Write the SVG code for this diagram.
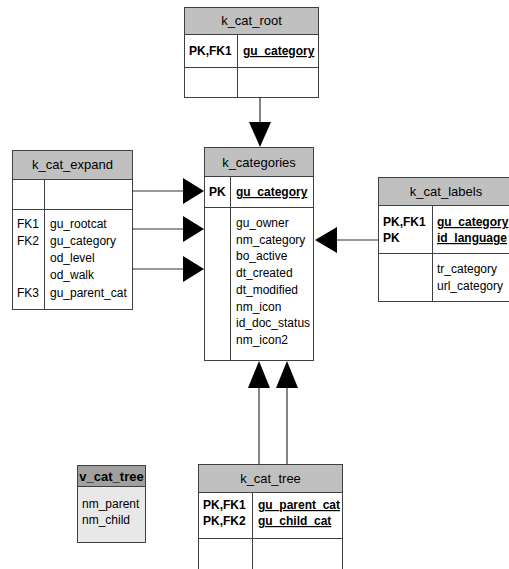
<svg xmlns="http://www.w3.org/2000/svg" width="509" height="569" viewBox="0 0 509 569">
<style>
text{font-family:"Liberation Sans",Arial,sans-serif;font-size:12px;fill:#000}
.t{font-size:13px;text-anchor:middle}
.b{font-weight:bold}
.u{text-decoration:underline}
.box{fill:#fff;stroke:#404040;stroke-width:1}
.hdr{fill:#c0c0c0;stroke:#404040;stroke-width:1}
.ln{stroke:#404040;stroke-width:1;fill:none}
.c{stroke:#333;stroke-width:1.2;fill:none}
.ah{fill:#000}
</style>
<rect width="509" height="569" fill="#fff"/>
<g id="k_cat_root">
<rect class="box" x="184.5" y="7.5" width="134" height="90"/>
<rect class="hdr" x="184.5" y="7.5" width="134" height="27"/>
<line class="ln" x1="184.5" y1="67.5" x2="318.5" y2="67.5"/>
<line class="ln" x1="237.5" y1="34.5" x2="237.5" y2="97.5"/>
<text class="t" x="251.5" y="25">k_cat_root</text>
<text class="b" x="189" y="55">PK,FK1</text>
<text class="b u" x="243" y="55">gu_category</text>
</g>
<g id="k_categories">
<rect class="box" x="204.5" y="147.5" width="109" height="213"/>
<rect class="hdr" x="204.5" y="147.5" width="109" height="29"/>
<line class="ln" x1="204.5" y1="207.5" x2="313.5" y2="207.5"/>
<line class="ln" x1="230.5" y1="176.5" x2="230.5" y2="360.5"/>
<text class="t" x="259" y="167">k_categories</text>
<text class="b" x="209" y="196">PK</text>
<text class="b u" x="236" y="196">gu_category</text>
<text x="236" y="227">gu_owner</text>
<text x="236" y="243.7">nm_category</text>
<text x="236" y="260.4">bo_active</text>
<text x="236" y="277.1">dt_created</text>
<text x="236" y="293.8">dt_modified</text>
<text x="236" y="310.5">nm_icon</text>
<text x="236" y="327.2">id_doc_status</text>
<text x="236" y="343.9">nm_icon2</text>
</g>
<g id="k_cat_expand">
<rect class="box" x="12.5" y="150.5" width="120" height="159"/>
<rect class="hdr" x="12.5" y="150.5" width="120" height="29"/>
<line class="ln" x1="12.5" y1="209.5" x2="132.5" y2="209.5"/>
<line class="ln" x1="44.5" y1="179.5" x2="44.5" y2="309.5"/>
<text class="t" x="72.5" y="169">k_cat_expand</text>
<text x="17" y="228">FK1</text>
<text x="17" y="245">FK2</text>
<text x="17" y="297">FK3</text>
<text x="50" y="228">gu_rootcat</text>
<text x="50" y="245">gu_category</text>
<text x="50" y="262">od_level</text>
<text x="50" y="279">od_walk</text>
<text x="50" y="297">gu_parent_cat</text>
</g>
<g id="k_cat_labels">
<rect class="box" x="378.5" y="177.5" width="140" height="124"/>
<rect class="hdr" x="378.5" y="177.5" width="140" height="28"/>
<line class="ln" x1="378.5" y1="253.5" x2="518" y2="253.5"/>
<line class="ln" x1="432.5" y1="205.5" x2="432.5" y2="301.5"/>
<text class="t" x="446" y="196">k_cat_labels</text>
<text class="b" x="383" y="226">PK,FK1</text>
<text class="b" x="383" y="242">PK</text>
<text class="b u" x="437" y="226">gu_category</text>
<text class="b u" x="437" y="242">id_language</text>
<text x="437" y="273">tr_category</text>
<text x="437" y="290">url_category</text>
</g>
<g id="k_cat_tree">
<rect class="box" x="198.5" y="464.5" width="144" height="110"/>
<rect class="hdr" x="198.5" y="464.5" width="144" height="28"/>
<line class="ln" x1="198.5" y1="538.5" x2="342.5" y2="538.5"/>
<line class="ln" x1="252.5" y1="492.5" x2="252.5" y2="575"/>
<text class="t" x="270.5" y="483">k_cat_tree</text>
<text class="b" x="203" y="509">PK,FK1</text>
<text class="b" x="203" y="525">PK,FK2</text>
<text class="b u" x="258" y="509">gu_parent_cat</text>
<text class="b u" x="258" y="525">gu_child_cat</text>
</g>
<g id="v_cat_tree">
<rect x="77.5" y="465.5" width="68" height="77" fill="#e8e8e8" stroke="#404040"/>
<rect x="77.5" y="465.5" width="68" height="21" fill="#a0a0a0" stroke="#404040"/>
<text class="t b" x="111.5" y="481">v_cat_tree</text>
<text x="82" y="508" fill="#333">nm_parent</text>
<text x="82" y="524" fill="#333">nm_child</text>
</g>
<g id="connectors">
<line class="c" x1="260" y1="97.5" x2="260" y2="123"/>
<polygon class="ah" points="249,122 271,122 260,147"/>
<line class="c" x1="132.5" y1="191" x2="184" y2="191"/>
<polygon class="ah" points="183,178 183,204 204,191"/>
<line class="c" x1="132.5" y1="229" x2="184" y2="229"/>
<polygon class="ah" points="183,216 183,242 204,229"/>
<line class="c" x1="132.5" y1="269" x2="184" y2="269"/>
<polygon class="ah" points="183,256 183,282 204,269"/>
<line class="c" x1="378.5" y1="240" x2="336" y2="240"/>
<polygon class="ah" points="337,227 337,253 315,240"/>
<line class="c" x1="259" y1="464.5" x2="259" y2="387"/>
<polygon class="ah" points="248,388 270,388 259,361"/>
<line class="c" x1="287" y1="464.5" x2="287" y2="387"/>
<polygon class="ah" points="276,388 298,388 287,361"/>
</g>
</svg>
